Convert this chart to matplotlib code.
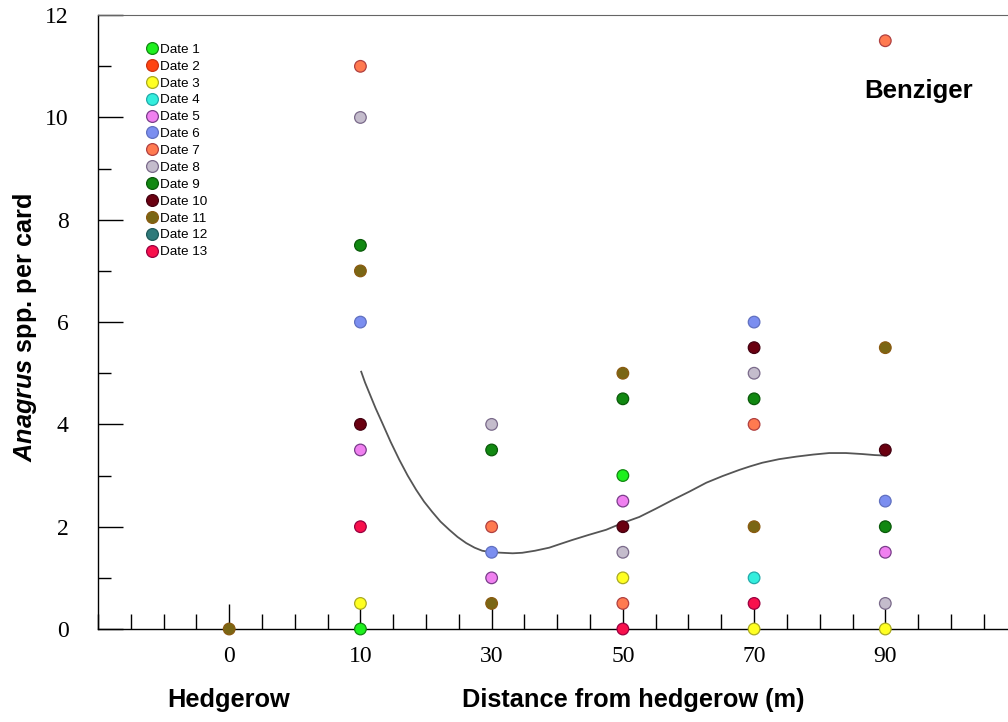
import matplotlib
matplotlib.use('Agg')
import matplotlib.pyplot as plt
from matplotlib.lines import Line2D
from matplotlib.ticker import MultipleLocator

plt.rcParams['mathtext.fontset'] = 'custom'
plt.rcParams['mathtext.it'] = 'Liberation Sans:italic:bold'
plt.rcParams['mathtext.rm'] = 'Liberation Sans:bold'

# distances along the transect (plotted as evenly spaced categories)
distances = ['0', '10', '30', '50', '70', '90']

date_labels = ['Date %d' % i for i in range(1, 14)]
date_face = ['#1ef01e', '#ff4411', '#ffff22', '#33eedd', '#f080f0', '#7b8ef0', '#ff7a50',
             '#c4bccc', '#118811', '#6a0010', '#7a6614', '#2f7a7a', '#f8104c']
date_edge = ['#118811', '#cc3311', '#aaaa22', '#22aaaa', '#7a3d8a', '#6070c0', '#b04040',
             '#7a6a8a', '#0a5a0a', '#440010', '#8a5a10', '#1f5a5a', '#990040']

# observations: distance, count per card, date number
pt_dist = ['0',
           '10', '10', '10', '10', '10', '10', '10', '10', '10', '10',
           '30', '30', '30', '30', '30', '30',
           '50', '50', '50', '50', '50', '50', '50', '50', '50',
           '70', '70', '70', '70', '70', '70', '70', '70', '70',
           '90', '90', '90', '90', '90', '90', '90', '90']
pt_value = [0,
            11, 10, 7.5, 7, 6, 4, 3.5, 2, 0.5, 0,
            4, 3.5, 2, 1.5, 1, 0.5,
            5, 4.5, 3, 2.5, 2, 1.5, 1, 0.5, 0,
            6, 5.5, 5, 4.5, 4, 2, 1, 0.5, 0,
            11.5, 5.5, 3.5, 2.5, 2, 1.5, 0.5, 0]
pt_date = [11,
           7, 8, 9, 11, 6, 10, 5, 13, 3, 1,
           8, 9, 7, 6, 5, 11,
           11, 9, 1, 5, 10, 8, 3, 7, 13,
           6, 10, 8, 9, 7, 11, 4, 13, 3,
           7, 11, 10, 6, 9, 5, 8, 3]

# trend line (x in category positions)
curve_x = [1.006, 1.035, 1.067, 1.115, 1.166, 1.23, 1.296, 1.36, 1.425, 1.485, 1.547,
           1.61, 1.677, 1.74, 1.806, 1.87, 1.928, 2.0, 2.081, 2.16, 2.233, 2.33,
           2.439, 2.52, 2.614, 2.74, 2.873, 2.995, 3.125, 3.25, 3.377, 3.51, 3.636,
           3.76, 3.887, 3.97, 4.062, 4.19, 4.322, 4.45, 4.573, 4.70, 4.825, 4.92, 5.008]
curve_y = [5.03, 4.82, 4.62, 4.32, 4.03, 3.66, 3.31, 3.00, 2.72, 2.49, 2.29,
           2.10, 1.94, 1.80, 1.68, 1.59, 1.53, 1.50, 1.49, 1.48, 1.49, 1.53,
           1.59, 1.66, 1.74, 1.84, 1.94, 2.07, 2.19, 2.35, 2.52, 2.69, 2.86,
           2.99, 3.11, 3.18, 3.25, 3.32, 3.37, 3.41, 3.44, 3.44, 3.42, 3.40, 3.39]

fig = plt.figure(figsize=(10.08, 7.22), dpi=100)
ax = fig.add_axes([0.0972, 0.1288, 0.9028, 0.8502])

ax.plot(curve_x, curve_y, color='#555555', lw=1.3, zorder=2, solid_joinstyle='round')

xs = [distances.index(d) for d in pt_dist]
fc = [date_face[d - 1] for d in pt_date]
ec = [date_edge[d - 1] for d in pt_date]
ax.scatter(xs, pt_value, s=70, c=fc, edgecolors=ec, linewidths=0.9, zorder=4, clip_on=False)

ax.set_xlim(-1, 5.935)
ax.set_ylim(0, 12)

ax.set_xticks(range(len(distances)))
ax.set_xticklabels(distances)
ax.xaxis.set_minor_locator(MultipleLocator(0.25))
ax.yaxis.set_major_locator(MultipleLocator(2))
ax.yaxis.set_minor_locator(MultipleLocator(1))

ax.tick_params(axis='x', which='major', direction='in', length=18, width=1, pad=12,
               labelsize=17, top=False)
ax.tick_params(axis='x', which='minor', direction='in', length=10.5, width=1, top=False)
ax.tick_params(axis='y', which='major', direction='in', length=18, width=1, pad=21,
               labelsize=17, right=False)
ax.tick_params(axis='y', which='minor', direction='in', length=9.5, width=1, right=False)
for lab in ax.get_xticklabels() + ax.get_yticklabels():
    lab.set_family('Liberation Serif')

ax.spines['right'].set_visible(False)
ax.spines['top'].set_color('#666666')
ax.spines['left'].set_linewidth(1)
ax.spines['bottom'].set_linewidth(1)

handles = [Line2D([], [], ls='none', marker='o', markersize=8.5, markerfacecolor=date_face[i],
                  markeredgecolor=date_edge[i], markeredgewidth=0.9) for i in range(13)]
ax.legend(handles, date_labels, loc='upper left', bbox_to_anchor=(0.053, 0.954),
          frameon=False, borderpad=0, borderaxespad=0, handlelength=0.9,
          handletextpad=0.15, labelspacing=0.33, prop={'family': 'Liberation Sans', 'size': 9.7})

fig.text(0.911, 0.874, 'Benziger', ha='center', va='center', fontsize=18.5,
         fontweight='bold', family='Liberation Sans')
fig.text(0.628, 0.031, 'Distance from hedgerow (m)', ha='center', va='center', fontsize=18.3,
         fontweight='bold', family='Liberation Sans')
fig.text(0.227, 0.031, 'Hedgerow', ha='center', va='center', fontsize=18.3,
         fontweight='bold', family='Liberation Sans')
fig.text(0.025, 0.546, r'$\mathit{Anagrus}$ spp. per card', ha='center', va='center',
         rotation=90, fontsize=18.2, fontweight='bold', family='Liberation Sans')

fig.savefig('out.png', dpi=100)
